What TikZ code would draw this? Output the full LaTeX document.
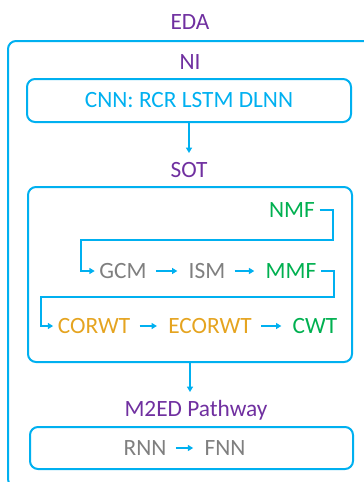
\documentclass[tikz,border=0pt]{standalone}
\usepackage{fontspec}
\setmainfont{Carlito}
\usetikzlibrary{arrows.meta}

\definecolor{edapurple}{RGB}{112,48,160}
\definecolor{edablue}{RGB}{0,176,240}
\definecolor{edagreen}{RGB}{0,176,80}
\definecolor{edagold}{RGB}{229,164,32}
\definecolor{edagray}{RGB}{127,127,127}

\tikzset{
	frame/.style={draw=edablue, line width=1.5pt, rounded corners=6pt},
	title/.style={text=edapurple},
	arr/.style={draw=edablue, line width=1.5pt, -{Triangle[length=4pt,width=4.5pt]}},
	flow/.style={arr, shorten <=3.5pt, shorten >=5pt}
}

\begin{document}
\begin{tikzpicture}[x=0.75pt, y=-0.75pt, every node/.style={font=\fontsize{17.5}{21}\selectfont}]

		\useasboundingbox (0,0) rectangle (364,482);
		\clip (0,0) rectangle (364,482);
		
		\node[title] (eda) at (190, 22) {EDA};
		% outer frame runs off the page on the right and at the bottom
		\draw[frame] (8, 41) rectangle (371, 487);
		
		\node[title] (ni) at (190, 62) {NI};
		\node[frame, text=edablue, minimum width=243pt, minimum height=32.25pt] (cnn) at (189, 100.5) {CNN: RCR LSTM DLNN};
		
		\coordinate (sotin) at (189, 153);
		\draw[arr] (cnn.south) -- (sotin);
		
		\node[title] (sot) at (189, 170) {SOT};
		\node[frame, minimum width=243pt, minimum height=131.25pt] (sotbox) at (190, 274.5) {};
		
		\node[text=edagreen] (nmf) at (292, 210) {NMF};
		
		\node[text=edagray] (gcm) at (123, 271) {GCM};
		\node[text=edagray] (ism) at (207, 271) {ISM};
		\node[text=edagreen] (mmf) at (291, 271) {MMF};
		
		\node[text=edagold] (corwt) at (94, 326) {CORWT};
		\node[text=edagold] (ecorwt) at (210, 326) {ECORWT};
		\node[text=edagreen] (cwt) at (315, 326) {CWT};
		
		%\draw[arr] (nmf) -- (gcm);
		\draw[arr] (nmf.east) -- ++(13, 0) |- (81, 240) |- (gcm.west);
		\draw[flow] (gcm) -- (ism);
		\draw[flow] (ism) -- (mmf);
		
		\draw[arr] (mmf.east) -- ++(13, 0) |- (41, 297) |- (corwt.west);
		\draw[flow] (corwt) -- (ecorwt);
		\draw[flow] (ecorwt) -- (cwt);
		
		\coordinate (m2edin) at (190, 392);
		\draw[arr] (sotbox.south) -- (m2edin);
		
		\node[title] (m2ed) at (196, 410) {M2ED Pathway};
		\node[frame, minimum width=242.25pt, minimum height=31.5pt] (m2edbox) at (191.5, 448) {};
		
		\node[text=edagray] (rnn) at (145, 448) {RNN};
		\node[text=edagray] (fnn) at (225, 448) {FNN};
		
		\draw[flow] (rnn) -- (fnn);
		
	\end{tikzpicture}
\end{document}
